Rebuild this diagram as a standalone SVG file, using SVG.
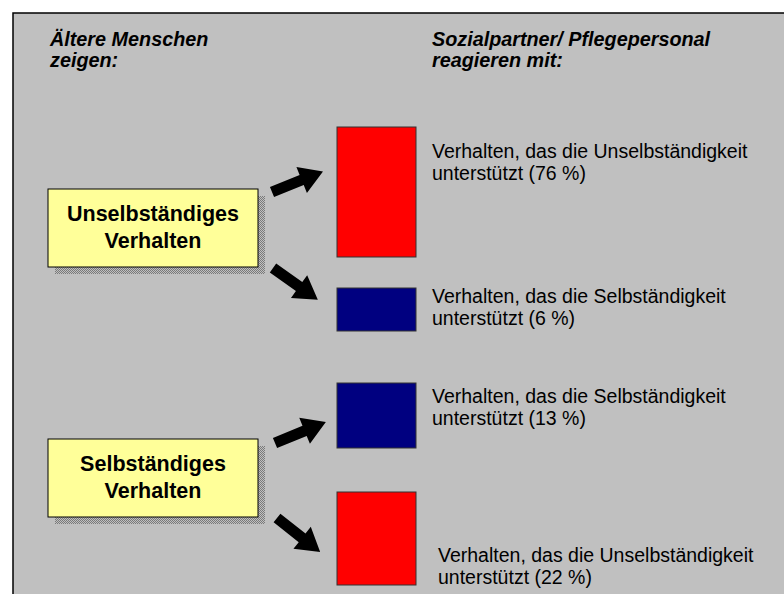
<svg xmlns="http://www.w3.org/2000/svg" width="784" height="594" viewBox="0 0 784 594">
  <defs>
    <!-- dithered drop shadow -->
    <pattern id="dither" width="2" height="2" patternUnits="userSpaceOnUse">
      <rect width="2" height="2" fill="#c0c0c0"/>
      <rect x="0" y="0" width="1" height="1" fill="#7a7a7a"/>
      <rect x="1" y="1" width="1" height="1" fill="#7a7a7a"/>
    </pattern>
    <!-- block arrow pointing right, tail at origin -->
    <path id="blockArrow" d="M0,-5.5 L32,-5.5 L32,-14 L55,0 L32,14 L32,5.5 L0,5.5 Z"/>
  </defs>
  <style>
    .head { font-family: "Liberation Sans", Arial, sans-serif; font-size: 19.8px; font-weight: bold; font-style: italic; fill: #000; }
    .body { font-family: "Liberation Sans", Arial, sans-serif; font-size: 19.5px; fill: #000; }
    .box { fill: #ffff99; stroke: #000; stroke-width: 1; }
    .boxText { font-family: "Liberation Sans", Arial, sans-serif; font-size: 21.5px; font-weight: bold; fill: #000; text-anchor: middle; }
    .shadow { fill: url(#dither); }
    .bar { stroke: #333; stroke-width: 1; }
    .arrow { fill: #000; }
  </style>

  <rect width="784" height="594" fill="#ffffff"/>
  <rect x="13" y="13" width="800" height="600" fill="#c0c0c0" stroke="#000" stroke-width="1.5"/>

  <g id="headings">
    <text class="head" x="50" y="46">Ältere Menschen</text>
    <text class="head" x="50" y="67">zeigen:</text>
    <text class="head" x="432" y="46">Sozialpartner/ Pflegepersonal</text>
    <text class="head" x="432" y="67">reagieren mit:</text>
  </g>

  <g id="node-unselbstaendig">
    <rect class="shadow" x="55" y="196" width="210" height="78"/>
    <rect class="box" x="48" y="189" width="210" height="78"/>
    <text class="boxText" x="153" y="221">Unselbständiges</text>
    <text class="boxText" x="153" y="248">Verhalten</text>
  </g>

  <g id="node-selbstaendig">
    <rect class="shadow" x="55" y="446" width="210" height="78"/>
    <rect class="box" x="48" y="439" width="210" height="78"/>
    <text class="boxText" x="153" y="471">Selbständiges</text>
    <text class="boxText" x="153" y="498">Verhalten</text>
  </g>

  <g id="bar-1">
    <rect class="bar" x="337" y="127" width="79" height="130" fill="#ff0000"/>
    <text class="body" x="432" y="158">Verhalten, das die Unselbständigkeit</text>
    <text class="body" x="432" y="180">unterstützt (76 %)</text>
  </g>

  <g id="bar-2">
    <rect class="bar" x="337" y="288" width="79" height="43" fill="#000080"/>
    <text class="body" x="432" y="303">Verhalten, das die Selbständigkeit</text>
    <text class="body" x="432" y="325">unterstützt (6 %)</text>
  </g>

  <g id="bar-3">
    <rect class="bar" x="337" y="383" width="79" height="65" fill="#000080"/>
    <text class="body" x="432" y="403">Verhalten, das die Selbständigkeit</text>
    <text class="body" x="432" y="425">unterstützt (13 %)</text>
  </g>

  <g id="bar-4">
    <rect class="bar" x="337" y="492" width="79" height="93" fill="#ff0000"/>
    <text class="body" x="438" y="562">Verhalten, das die Unselbständigkeit</text>
    <text class="body" x="438" y="584">unterstützt (22 %)</text>
  </g>

  <g id="connectors" class="arrow">
    <use href="#blockArrow" transform="translate(272,192) rotate(-22)"/>
    <use href="#blockArrow" transform="translate(273,268) rotate(35.4)"/>
    <use href="#blockArrow" transform="translate(275,443) rotate(-22.4)"/>
    <use href="#blockArrow" transform="translate(277,518) rotate(38.3)"/>
  </g>
</svg>
